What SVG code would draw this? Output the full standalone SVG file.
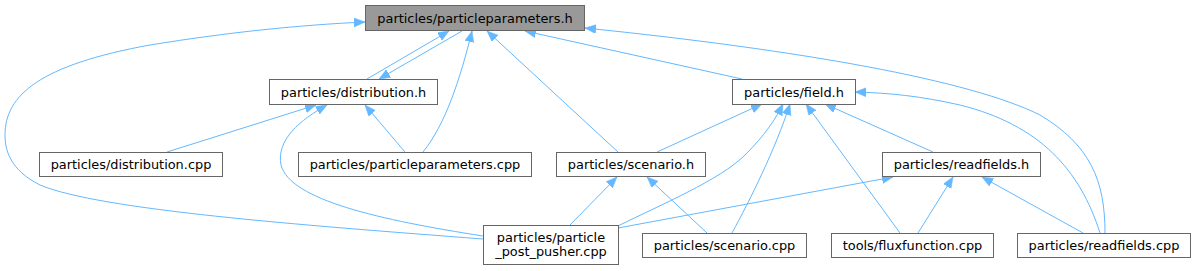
<svg xmlns="http://www.w3.org/2000/svg" width="1196" height="271" viewBox="0 0 1196 271">
<style>
.n rect{fill:#fff;stroke:#666;stroke-width:1}
.n.root rect{fill:#999}
.n text{font-family:"DejaVu Sans","Liberation Sans",sans-serif;font-size:12.9px;fill:#000;text-anchor:middle}
.e path{fill:none;stroke:#63b8ff;stroke-width:1;marker-end:url(#a)}
</style>
<defs>
<marker id="a" markerWidth="13" markerHeight="10" refX="11" refY="4.5" orient="auto" markerUnits="userSpaceOnUse">
<path d="M0,0 L11,4.5 L0,9 z" fill="#63b8ff" stroke="#63b8ff" stroke-width="0.5"/>
</marker>
</defs>
<g class="e" id="edges">
<path d="M367,79 L449,31"/>
<path d="M462,31 L379,79"/>
<path d="M167,152 L316,105"/>
<path d="M405,152 L365,105"/>
<path d="M483,236 C380,220 290,200 281,165 C276,140 300,120 327,105"/>
<path d="M423,152 C445,125 460,80 472,31"/>
<path d="M483,239 C300,225 100,210 40,185 C10,170 5,150 5,135 C5,95 40,65 150,45 C230,32 300,25 365,22"/>
<path d="M618,152 L487,31"/>
<path d="M742,79 L525,31"/>
<path d="M1105,233 C1105,180 1090,145 1040,115 C970,80 800,50 585,28"/>
<path d="M657,152 L762,104"/>
<path d="M618,226 C660,205 720,180 745,155 C765,135 775,120 783,104"/>
<path d="M732,233 C750,200 775,150 790,104"/>
<path d="M933,152 L825,104"/>
<path d="M900,233 L806,104"/>
<path d="M1100,233 C1080,170 1040,125 960,105 C920,96 890,93 855,92"/>
<path d="M570,225 L617,177"/>
<path d="M707,233 L647,177"/>
<path d="M618,228 L893,177"/>
<path d="M918,233 L953,177"/>
<path d="M1083,233 L982,177"/>
</g>
<g class="n root" id="n_particleparameters_h"><rect x="365.5" y="5.5" width="219" height="25"/><text x="475" y="22.5">particles/particleparameters.h</text></g>
<g class="n" id="n_distribution_h"><rect x="269.5" y="79.5" width="168" height="25"/><text x="353.5" y="96.5">particles/distribution.h</text></g>
<g class="n" id="n_field_h"><rect x="732.5" y="79.5" width="123" height="25"/><text x="794" y="96.5">particles/field.h</text></g>
<g class="n" id="n_distribution_cpp"><rect x="39.5" y="152.5" width="183" height="24"/><text x="131" y="169">particles/distribution.cpp</text></g>
<g class="n" id="n_particleparameters_cpp"><rect x="298.5" y="152.5" width="233" height="24"/><text x="415" y="169">particles/particleparameters.cpp</text></g>
<g class="n" id="n_scenario_h"><rect x="556.5" y="152.5" width="149" height="24"/><text x="631" y="169">particles/scenario.h</text></g>
<g class="n" id="n_readfields_h"><rect x="882.5" y="152.5" width="158" height="24"/><text x="961.5" y="169">particles/readfields.h</text></g>
<g class="n" id="n_particle_post_pusher_cpp"><rect x="483.5" y="225.5" width="135" height="39"/><text x="551" y="241.5">particles/particle</text><text x="551" y="256">_post_pusher.cpp</text></g>
<g class="n" id="n_scenario_cpp"><rect x="642.5" y="233.5" width="164" height="24"/><text x="724.5" y="250">particles/scenario.cpp</text></g>
<g class="n" id="n_fluxfunction_cpp"><rect x="831.5" y="233.5" width="162" height="24"/><text x="912.5" y="250">tools/fluxfunction.cpp</text></g>
<g class="n" id="n_readfields_cpp"><rect x="1017.5" y="233.5" width="173" height="24"/><text x="1104" y="250">particles/readfields.cpp</text></g>
</svg>
